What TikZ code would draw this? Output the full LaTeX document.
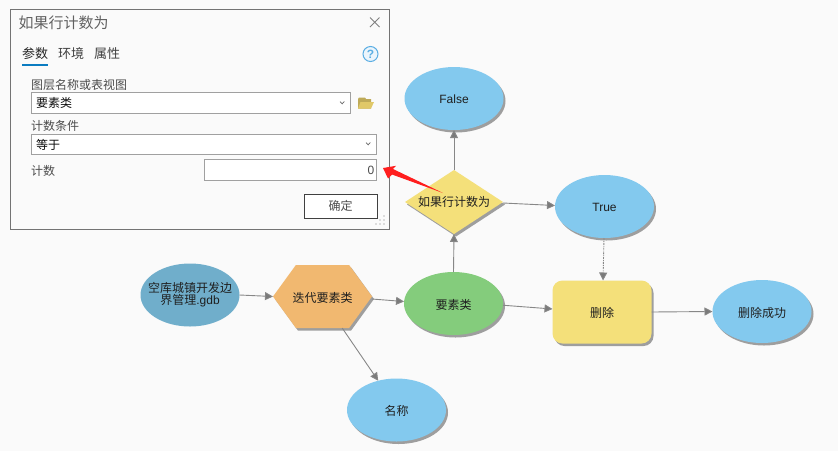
\documentclass[tikz,border=0pt]{standalone}
\usepackage{fontspec}
\setmainfont{Liberation Sans}
\newfontfamily\cjk{Noto Sans CJK SC}
\usetikzlibrary{arrows.meta,shapes.geometric,shapes.symbols,shadows}
\newcommand{\dn}[1]{\raisebox{-1.2pt}[\height][\depth]{#1}}
\definecolor{bgc}{HTML}{FAFAFA}
\definecolor{skyb}{HTML}{83C9EE}
\definecolor{steelb}{HTML}{70AECB}
\definecolor{hexo}{HTML}{F1B870}
\definecolor{greenf}{HTML}{84CC7C}
\definecolor{yellowf}{HTML}{F4E07A}
\definecolor{linkc}{HTML}{7A7A7A}
\definecolor{boxc}{HTML}{A0A0A0}
\definecolor{tabblue}{HTML}{0A7CC1}
\definecolor{helpb}{HTML}{5BAEE3}
\definecolor{folder}{HTML}{E0C868}
\definecolor{redar}{HTML}{FF1E1E}
\tikzset{
  sz12/.style={font=\fontsize{12}{14}\selectfont},
  shad/.style={drop shadow={shadow xshift=2pt,shadow yshift=-2.5pt,fill=black!38,opacity=1}},
  shp/.style={inner sep=0pt,outer sep=0pt,text=black!88,sz12},
  oval/.style={shp,ellipse,minimum width=99pt,minimum height=63pt},
  ovalb/.style={oval,fill=skyb,shad},
  link/.style={draw=linkc!90,line width=0.9pt,-{Triangle[length=8pt,width=8pt,fill=linkc]}},
  fieldbox/.style={draw=boxc,fill=white,line width=0.9pt},
  dlgtext/.style={anchor=west,inner sep=0pt,text=black!70,sz12},
  valtext/.style={anchor=west,inner sep=0pt,text=black!95,sz12},
  tabtext/.style={anchor=west,inner sep=0pt,text=black!75,font=\fontsize{13}{15}\selectfont},
  chev/.style={draw=black!60,line width=0.7pt},
}
\begin{document}
\begin{tikzpicture}[x=1pt,y=-1pt]
\useasboundingbox (0,0) rectangle (838,451);
\fill[bgc] (0,0) rectangle (838,451);

% diagram nodes
\node[ovalb] (false) at (454,98.5) {\dn{False}};
\node[ovalb] (true) at (604.5,206.5) {\dn{True}};
\node[shp,diamond,aspect=1.53,minimum width=98pt,minimum height=64pt,fill=yellowf,shad] (dia) at (454,202) {};
\node[oval,fill=steelb] (src) at (190,295) {};
\node[shp,signal,signal to=east and west,signal pointer angle=108,minimum width=99pt,minimum height=63pt,fill=hexo,shad] (hex) at (322.5,296.5) {};
\node[oval,fill=greenf,shad] (green) at (453.5,303.5) {\dn{\cjk 要素类}};
\node[ovalb] (name) at (396.5,410) {\dn{\cjk 名称}};
\node[shp,rectangle,rounded corners=10pt,minimum width=99pt,minimum height=63pt,fill=yellowf,shad] (del) at (602,312) {\dn{\cjk 删除}};
\node[ovalb] (ok) at (762,311.5) {\dn{\cjk 删除成功}};
\node[shp] (srct) at (190,295.5) {\begin{tabular}{@{}c@{}}\cjk 空库城镇开发边\\[-2pt]{\cjk 界管理}.gdb\end{tabular}};
\node[shp] (hext) at (322.5,297.5) {\cjk 迭代要素类};

% connectors
\draw[link] (src.east) -- (hex.west);
\draw[link] ([yshift=-2.5pt]hex.east) -- ([yshift=2pt]green.west);
\draw[link] (hex.-58) -- (name.122);
\draw[link] (green.north) -- (dia.south);
\draw[link] (dia.north) -- (false.south);
\draw[link] ([yshift=-1pt]dia.east) -- ([yshift=1pt]true.west);
\draw[link] (green.-2) -- ([yshift=3pt]del.west);
\draw[link] (del.east) -- (ok.west);
\draw[link,dash pattern=on 2pt off 1pt on 0.8pt off 1pt] ([xshift=-0.5pt]true.south) -- ([xshift=1pt]del.north);

% dialog
\node[draw=black!55,fill=bgc,line width=0.9pt,minimum width=379pt,minimum height=219.5pt,inner sep=0pt,anchor=north west] (dlg) at (10,9.2) {};
\node[anchor=west,inner sep=0pt,text=black!62,font=\fontsize{15}{17}\selectfont\cjk] (title) at (18.5,23) {如果行计数为};
\coordinate (xa) at (370,17.5); \coordinate (xb) at (379.5,27);
\coordinate (xc) at (370,27); \coordinate (xd) at (379.5,17.5);
\draw[black!50,line width=1pt] (xa) -- (xb) (xc) -- (xd);
\node[tabtext,text=black!85] (t1) at (22,53.5) {\cjk 参数};
\node[tabtext] (t2) at (58,53.5) {\cjk 环境};
\node[tabtext] (t3) at (94,53.5) {\cjk 属性};
\fill[tabblue] (22,64) rectangle (48,66);
\node[circle,draw=helpb,fill=helpb!12,line width=1pt,minimum size=15pt,inner sep=0pt,text=helpb,font=\fontsize{12}{14}\selectfont\bfseries] (help) at (370.5,54) {?};

\node[dlgtext] (l1) at (31,84.5) {\cjk 图层名称或表视图};
\node[fieldbox,minimum width=319pt,minimum height=21pt,inner sep=0pt,anchor=north west] (f1) at (31,92) {};
\node[valtext] (v1) at (36,103) {\cjk 要素类};
\draw[chev] (340,101.5) -- (342.2,103.8) -- (344.4,101.5);
% folder icon
\fill[folder!85!black] (358,99) -- (358,108.5) -- (371,108.5) -- (371,99) -- (366,99) -- (365,97.5) -- (359,97.5) -- cycle;
\fill[folder] (358,108.5) -- (360.5,102) -- (374,102) -- (371,108.5) -- cycle;

\node[dlgtext] (l2) at (31,126) {\cjk 计数条件};
\node[fieldbox,minimum width=345pt,minimum height=20.5pt,inner sep=0pt,anchor=north west] (f2) at (31,133.5) {};
\node[valtext] (v2) at (36,144.5) {\cjk 等于};
\draw[chev] (366,142.5) -- (368.2,144.8) -- (370.4,142.5);

\node[dlgtext] (l3) at (31,171) {\cjk 计数};
\node[fieldbox,minimum width=172pt,minimum height=21pt,inner sep=0pt,anchor=north west] (f3) at (204,159) {};
\node[anchor=east,inner sep=0pt,text=black!70,sz12] (v3) at (374.5,170) {0};

\node[draw=black!75,fill=white,line width=0.9pt,minimum width=73pt,minimum height=24pt,inner sep=0pt,text=black!70,sz12] (okb) at (340.5,206) {\cjk 确定};
\foreach \p in {(384,216),(380,220),(384,220),(376,224),(380,224),(384,224)}
  \fill[black!25] \p circle (0.9);

% red arrow
\coordinate (tip) at (383,168);
\coordinate (tail) at (443,193);
\fill[redar] (tail) -- (392,174.5) -- (388,178.5) -- (tip) -- (396,165.8) -- (393,169) -- cycle;

% diamond label over the arrow
\node[shp] (diat) at (454,202) {\cjk 如果行计数为};
\end{tikzpicture}
\end{document}
